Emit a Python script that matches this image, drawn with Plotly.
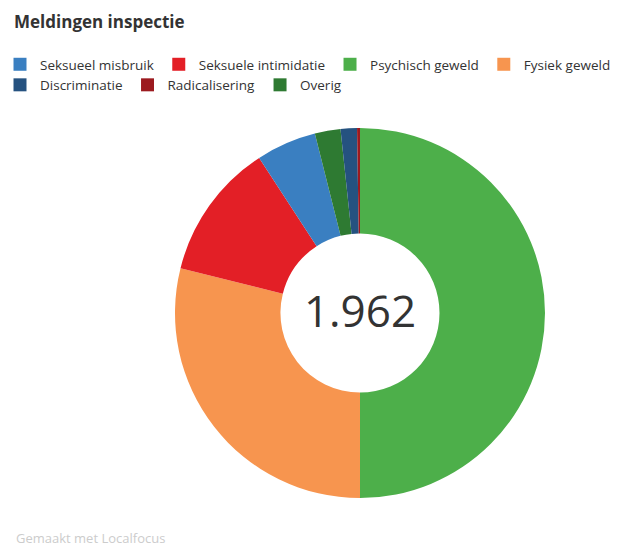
import plotly.graph_objects as go

# Data (legend order)
categories = ["Seksueel misbruik", "Seksuele intimidatie", "Psychisch geweld",
              "Fysiek geweld", "Discriminatie", "Radicalisering", "Overig"]
values = [103, 234, 981, 567, 28, 5, 44]
colors = ["#3a7fc1", "#e31f26", "#4daf4a", "#f7954f", "#255280", "#9c1a1f", "#2e7a32"]

total = sum(values)
total_label = f"{total:,}".replace(",", ".")

fig = go.Figure()

fig.add_trace(go.Pie(
    labels=categories,
    values=values,
    marker=dict(colors=colors, line=dict(width=0)),
    hole=0.43,
    sort=True,
    direction="clockwise",
    rotation=0,
    textinfo="none",
    showlegend=False,
    domain=dict(x=[(360 - 185) / 618, (360 + 185) / 618],
                y=[1 - 498 / 550, 1 - 128 / 550]),
    title=dict(text=total_label, position="middle center",
               font=dict(family="Open Sans", size=44, color="#333333")),
))

# Legend entries (in the original legend order)
for name, col in zip(categories, colors):
    fig.add_trace(go.Scatter(
        x=[None], y=[None], mode="markers", name=name, legendgroup=name,
        marker=dict(symbol="square", size=13, color=col),
        hoverinfo="skip",
    ))

fig.update_layout(
    width=618, height=550,
    margin=dict(l=0, r=0, t=0, b=0),
    paper_bgcolor="white", plot_bgcolor="white",
    font=dict(family="Open Sans", color="#333333"),
    title=dict(text="<b>Meldingen inspectie</b>", x=14 / 618, xanchor="left",
               xref="container", y=1 - 22 / 550, yanchor="middle", yref="container",
               font=dict(family="Open Sans", size=17, color="#333333")),
    legend=dict(orientation="h", x=0, xanchor="left", y=1 - 49 / 550,
                yanchor="top", font=dict(family="Open Sans", size=13.5, color="#333333"),
                tracegroupgap=0,
                bgcolor="rgba(0,0,0,0)", itemclick=False, itemdoubleclick=False),
    xaxis=dict(visible=False),
    yaxis=dict(visible=False),
    annotations=[dict(text="Gemaakt met Localfocus", x=14 / 618, y=1 - 538 / 550,
                      xref="paper", yref="paper", xanchor="left", yanchor="middle",
                      showarrow=False,
                      font=dict(family="Open Sans", size=13, color="#cccccc"))],
)

fig.write_html("out.html")
